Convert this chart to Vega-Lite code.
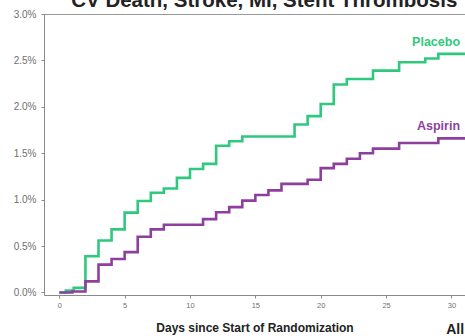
{
  "$schema": "https://vega.github.io/schema/vega-lite/v6.json",
  "autosize": {"type": "none"},
  "width": 421,
  "height": 281,
  "padding": {"left": 44, "top": 14, "right": 0, "bottom": 41},
  "background": "white",
  "title": {
    "text": "CV Death, Stroke, MI, Stent Thrombosis",
    "anchor": "start",
    "dx": 58,
    "dy": 18,
    "offset": 0,
    "baseline": "alphabetic",
    "font": "Liberation Sans",
    "fontSize": 20.5,
    "fontWeight": "bold",
    "color": "#222222"
  },
  "config": {
    "view": {"stroke": "#9a9a9a", "strokeWidth": 1},
    "axis": {
      "grid": false,
      "domainColor": "#8a8a8a",
      "tickColor": "#8a8a8a",
      "tickSize": 3,
      "labelFont": "Liberation Sans",
      "labelFontSize": 7.5,
      "labelColor": "#707070",
      "titleFont": "Liberation Sans"
    }
  },
  "layer": [
    {
      "data": {
        "values": [
          {"day": 0, "pct": 0, "group": "Placebo"},
          {"day": 0.5, "pct": 0.02, "group": "Placebo"},
          {"day": 1.1, "pct": 0.05, "group": "Placebo"},
          {"day": 2, "pct": 0.39, "group": "Placebo"},
          {"day": 3, "pct": 0.56, "group": "Placebo"},
          {"day": 4, "pct": 0.68, "group": "Placebo"},
          {"day": 5, "pct": 0.86, "group": "Placebo"},
          {"day": 6, "pct": 0.985, "group": "Placebo"},
          {"day": 7, "pct": 1.075, "group": "Placebo"},
          {"day": 8, "pct": 1.12, "group": "Placebo"},
          {"day": 9, "pct": 1.235, "group": "Placebo"},
          {"day": 10, "pct": 1.33, "group": "Placebo"},
          {"day": 11, "pct": 1.385, "group": "Placebo"},
          {"day": 12, "pct": 1.58, "group": "Placebo"},
          {"day": 13, "pct": 1.63, "group": "Placebo"},
          {"day": 14, "pct": 1.68, "group": "Placebo"},
          {"day": 18, "pct": 1.81, "group": "Placebo"},
          {"day": 19, "pct": 1.9, "group": "Placebo"},
          {"day": 20, "pct": 2.03, "group": "Placebo"},
          {"day": 21, "pct": 2.24, "group": "Placebo"},
          {"day": 22, "pct": 2.3, "group": "Placebo"},
          {"day": 24, "pct": 2.39, "group": "Placebo"},
          {"day": 26, "pct": 2.48, "group": "Placebo"},
          {"day": 28, "pct": 2.52, "group": "Placebo"},
          {"day": 29, "pct": 2.57, "group": "Placebo"},
          {"day": 31.2, "pct": 2.57, "group": "Placebo"},
          {"day": 0, "pct": 0, "group": "Aspirin"},
          {"day": 1, "pct": 0.01, "group": "Aspirin"},
          {"day": 2, "pct": 0.12, "group": "Aspirin"},
          {"day": 3, "pct": 0.3, "group": "Aspirin"},
          {"day": 4, "pct": 0.36, "group": "Aspirin"},
          {"day": 5, "pct": 0.435, "group": "Aspirin"},
          {"day": 6, "pct": 0.6, "group": "Aspirin"},
          {"day": 7, "pct": 0.68, "group": "Aspirin"},
          {"day": 8, "pct": 0.73, "group": "Aspirin"},
          {"day": 11, "pct": 0.79, "group": "Aspirin"},
          {"day": 12, "pct": 0.865, "group": "Aspirin"},
          {"day": 13, "pct": 0.92, "group": "Aspirin"},
          {"day": 14, "pct": 0.99, "group": "Aspirin"},
          {"day": 15, "pct": 1.05, "group": "Aspirin"},
          {"day": 16, "pct": 1.1, "group": "Aspirin"},
          {"day": 17, "pct": 1.17, "group": "Aspirin"},
          {"day": 19, "pct": 1.215, "group": "Aspirin"},
          {"day": 20, "pct": 1.34, "group": "Aspirin"},
          {"day": 21, "pct": 1.385, "group": "Aspirin"},
          {"day": 22, "pct": 1.44, "group": "Aspirin"},
          {"day": 23, "pct": 1.5, "group": "Aspirin"},
          {"day": 24, "pct": 1.55, "group": "Aspirin"},
          {"day": 26, "pct": 1.61, "group": "Aspirin"},
          {"day": 29, "pct": 1.66, "group": "Aspirin"},
          {"day": 31.2, "pct": 1.66, "group": "Aspirin"}
        ]
      },
      "mark": {"type": "line", "interpolate": "step-after", "strokeWidth": 2.6, "clip": true},
      "encoding": {
        "x": {
          "field": "day", "type": "quantitative",
          "scale": {"domain": [-1.17, 31.04], "nice": false, "zero": false},
          "axis": {
            "values": [0, 5, 10, 15, 20, 25, 30],
            "title": "Days since Start of Randomization",
            "titleFontSize": 12,
            "titleFontWeight": "bold",
            "titleColor": "#222222",
            "titlePadding": 14,
            "labelPadding": 3
          }
        },
        "y": {
          "field": "pct", "type": "quantitative",
          "scale": {"domain": [-0.027, 3.0], "nice": false, "zero": false},
          "axis": {
            "values": [0, 0.5, 1, 1.5, 2, 2.5, 3],
            "labelExpr": "format(datum.value, '.1f') + '%'",
            "labelFontSize": 10,
            "title": null,
            "labelPadding": 5
          }
        },
        "color": {
          "field": "group", "type": "nominal",
          "scale": {"domain": ["Placebo", "Aspirin"], "range": ["#2fc97d", "#8e3f9e"]},
          "legend": null
        }
      }
    },
    {
      "data": {
        "values": [
          {"day": 30.66, "pct": 2.7, "label": "Placebo", "group": "Placebo"},
          {"day": 30.66, "pct": 1.79, "label": "Aspirin", "group": "Aspirin"}
        ]
      },
      "mark": {"type": "text", "align": "right", "baseline": "middle", "font": "Liberation Sans", "fontSize": 12.5, "fontWeight": "bold"},
      "encoding": {
        "x": {"field": "day", "type": "quantitative"},
        "y": {"field": "pct", "type": "quantitative"},
        "text": {"field": "label"},
        "color": {"field": "group", "type": "nominal", "scale": {"domain": ["Placebo", "Aspirin"], "range": ["#2fc97d", "#8e3f9e"]}, "legend": null}
      }
    },
    {
      "data": {"values": [{"day": 29.6, "pct": -0.4, "label": "All"}]},
      "mark": {"type": "text", "align": "left", "baseline": "middle", "font": "Liberation Sans", "fontSize": 14, "fontWeight": "bold", "color": "#222222", "clip": false},
      "encoding": {
        "x": {"field": "day", "type": "quantitative"},
        "y": {"field": "pct", "type": "quantitative"},
        "text": {"field": "label"}
      }
    }
  ]
}
